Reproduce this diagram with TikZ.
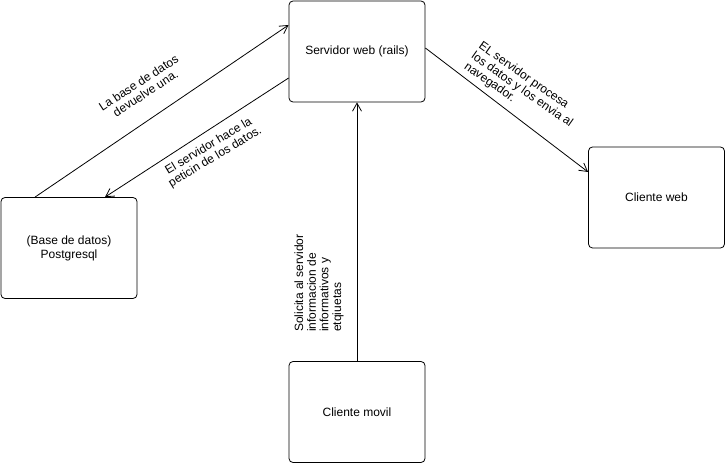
\documentclass[tikz,border=0pt]{standalone}
\usepackage{fontspec}
\setmainfont{Liberation Sans}
\usepackage{tikz}
\usetikzlibrary{arrows.meta}
\tikzset{
	caja/.style     = {draw, line width=0.8pt, rectangle, rounded corners=4pt,
		minimum width=136pt, minimum height=101pt, inner sep=0pt,
		font=\fontsize{12}{14}\selectfont},
	rotulo/.style   = {inner sep=0pt, font=\fontsize{12}{12.6}\selectfont}
}

\begin{document}
\begin{tikzpicture}[x=1pt, y=-1pt, line width=0.8pt, >={Straight Barb[length=8pt,width=9pt]}]
	\useasboundingbox (0,0) rectangle (726,465);

	\draw
	node at (357,51.5) [caja] (srv) {Servidor web (rails)}
	node at (69,248) [caja, align=center] (bd) {(Base de datos)\\Postgresql}
	node at (656.5,197.5) [caja] (web) {Cliente web}
	node at (357,412) [caja] (mov) {Cliente movil};

	\draw[->]([xshift=-34pt]bd.north) -- ([yshift=26.5pt]srv.west);
	\draw[->]([yshift=-26.5pt]srv.west) -- ([xshift=36pt]bd.north);
	\draw[->]([yshift=3.5pt]srv.east) -- ([yshift=25.5pt]web.west);
	\draw[->](mov.north) -- (srv.south);

	% textos de las flechas
	\draw
	node at (142,88) [rotulo, rotate=33, align=center] (t1) {La base de datos\\devuelve una.}
	node at (212,152) [rotulo, rotate=31, align=center] (t2) {El servidor hace la\\peticin de los datos.}
	node at (522,90) [rotulo, rotate=-35, align=left] (t3) {EL servidor procesa\\los datos y los envia al\\navegador.}
	node at (319,283) [rotulo, rotate=90, align=left] (t4) {Solicita al servidor\\informacion de\\informativos y\\etqiuetas};

\end{tikzpicture}
\end{document}
